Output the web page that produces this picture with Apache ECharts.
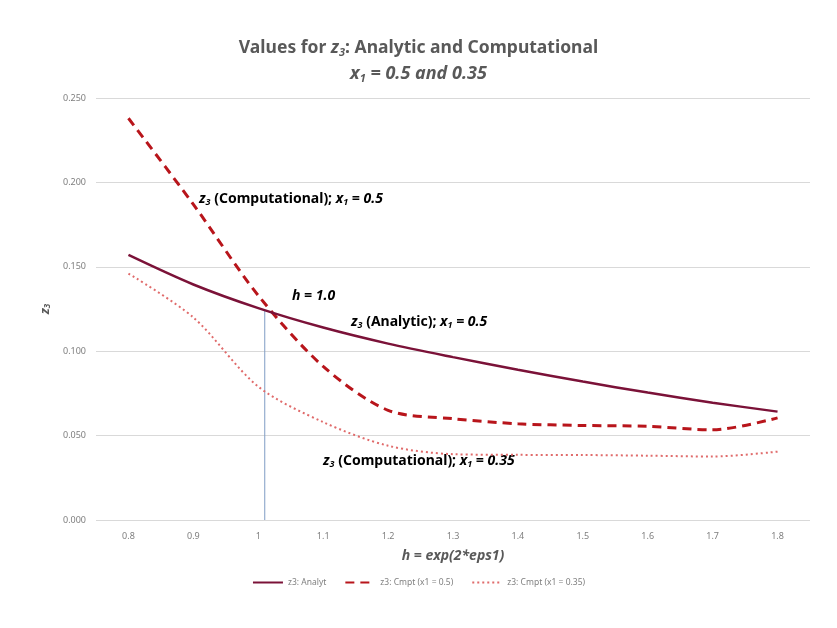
<!DOCTYPE html>
<html lang="en">
<head>
  <meta charset="UTF-8">
  <title>Values for z3</title>
  <style>
    html, body { margin: 0; padding: 0; background: #fff; }
  </style>
</head>
<body>
  <div id="main" style="width: 837px;height:628px;"></div>

  <script src="https://cdn.jsdelivr.net/npm/echarts@6/dist/echarts.min.js"></script>
  <script>
    // h = exp(2*eps1)
    let hValues = [0.8, 0.9, 1.0, 1.1, 1.2, 1.3, 1.4, 1.5, 1.6, 1.7, 1.8];
    let analytic = [0.157, 0.1395, 0.1255, 0.114, 0.1045, 0.0965, 0.089, 0.082, 0.0755, 0.0695, 0.0642];
    let cmpt05 = [0.238, 0.187, 0.133, 0.091, 0.065, 0.060, 0.057, 0.056, 0.0555, 0.0534, 0.0605];
    let cmpt035 = [0.146, 0.120, 0.079, 0.058, 0.044, 0.039, 0.0386, 0.0385, 0.0381, 0.0376, 0.0405];
    // marker line at h = 1.0
    let hMarkerX = 1.01;
    let hMarkerTop = 0.124;

    let font = '"Noto Sans", sans-serif';
    let pairs = (ys) => hValues.map((h, i) => [h, ys[i]]);

    let chart = echarts.init(document.getElementById('main'));
    let option = {
      animation: false,
      title: [{
        left: 'center',
        top: 34,
        text: 'Values for {z|z}{sub|3}: Analytic and Computational',
        textStyle: {
          fontFamily: font,
          fontSize: 17.5,
          fontWeight: 'bold',
          color: '#595959',
          rich: {
            z: { fontFamily: font, fontSize: 17.5, fontWeight: 'bold', fontStyle: 'italic', color: '#595959' },
            sub: { fontFamily: font, fontSize: 11, fontWeight: 'bold', fontStyle: 'italic', color: '#595959', padding: [8, 0, 0, 0] }
          }
        }
      }, {
        left: 'center',
        top: 59,
        text: '{t|x}{sub|1}{t| = 0.5 and 0.35}',
        textStyle: {
          rich: {
            t: { fontFamily: font, fontSize: 18, fontWeight: 'bold', fontStyle: 'italic', color: '#595959' },
            sub: { fontFamily: font, fontSize: 11, fontWeight: 'bold', fontStyle: 'italic', color: '#595959', padding: [9, 0, 0, 0] }
          }
        }
      }],
      grid: { left: 96, right: 27, top: 98, bottom: 108, containLabel: false },
      legend: {
        bottom: 36,
        left: 'center',
        itemWidth: 30,
        itemHeight: 10,
        itemGap: 18,
        itemStyle: { opacity: 0 },
        data: ['z3: Analyt', 'z3: Cmpt (x1 = 0.5)', 'z3: Cmpt (x1 = 0.35)'],
        textStyle: { fontFamily: font, fontSize: 8.5, color: '#7f7f7f' }
      },
      xAxis: {
        type: 'value',
        min: 0.75,
        max: 1.85,
        name: 'h = exp(2*eps1)',
        nameLocation: 'middle',
        nameGap: 29,
        nameTextStyle: { fontFamily: font, fontSize: 14, fontWeight: 'bold', fontStyle: 'italic', color: '#595959' },
        axisLine: { show: false },
        axisTick: { show: false },
        splitLine: { show: false },
        axisLabel: {
          customValues: hValues,
          fontFamily: font,
          fontSize: 9,
          color: '#7f7f7f',
          margin: 12
        }
      },
      yAxis: {
        type: 'value',
        min: 0,
        max: 0.25,
        interval: 0.05,
        name: '{z|z}{sub|3}',
        nameLocation: 'middle',
        nameGap: 36,
        nameRotate: 90,
        nameTextStyle: {
          rich: {
            z: { fontFamily: font, fontSize: 13, fontWeight: 'bold', fontStyle: 'italic', color: '#595959' },
            sub: { fontFamily: font, fontSize: 8, fontWeight: 'bold', fontStyle: 'italic', color: '#595959', padding: [6, 0, 0, 0] }
          }
        },
        axisLine: { show: false },
        axisTick: { show: false },
        splitLine: { lineStyle: { color: '#d9d9d9', width: 1 } },
        axisLabel: {
          fontFamily: font,
          fontSize: 9,
          color: '#7f7f7f',
          margin: 10,
          formatter: (v) => v.toFixed(3)
        }
      },
      series: [{
        name: 'hMarker',
        type: 'line',
        data: [[hMarkerX, 0], [hMarkerX, hMarkerTop]],
        symbol: 'none',
        lineStyle: { color: '#7f9cc4', width: 1 },
        z: 1
      }, {
        name: 'z3: Analyt',
        type: 'line',
        data: pairs(analytic),
        smooth: 0.3,
        symbol: 'none',
        color: '#7b1238',
        lineStyle: { color: '#7b1238', width: 2.5 },
        z: 3
      }, {
        name: 'z3: Cmpt (x1 = 0.5)',
        type: 'line',
        data: pairs(cmpt05),
        smooth: 0.3,
        symbol: 'none',
        color: '#b8151b',
        lineStyle: { color: '#b8151b', width: 3, type: [9, 6] },
        z: 2
      }, {
        name: 'z3: Cmpt (x1 = 0.35)',
        type: 'line',
        data: pairs(cmpt035),
        smooth: 0.3,
        symbol: 'none',
        color: '#e06b6b',
        lineStyle: { color: '#e06b6b', width: 2, type: [2, 3] },
        z: 2
      }],
      graphic: [{
        type: 'text',
        left: 199,
        top: 192,
        style: {
          text: '{z|z}{sub|3}{b| (Computational); }{z|x}{sub|1}{z| = 0.5}',
          rich: annotRich()
        }
      }, {
        type: 'text',
        left: 292,
        top: 289,
        style: {
          text: '{z|h = 1.0}',
          rich: annotRich()
        }
      }, {
        type: 'text',
        left: 351,
        top: 315,
        style: {
          text: '{z|z}{sub|3}{b| (Analytic); }{z|x}{sub|1}{z| = 0.5}',
          rich: annotRich()
        }
      }, {
        type: 'text',
        left: 323,
        top: 454,
        style: {
          text: '{z|z}{sub|3}{b| (Computational); }{z|x}{sub|1}{z| = 0.35}',
          rich: annotRich()
        }
      }]
    };
    chart.setOption(option);

    function annotRich() {
      return {
        b: { fontFamily: font, fontSize: 14, fontWeight: 'bold', color: '#000' },
        z: { fontFamily: font, fontSize: 14, fontWeight: 'bold', fontStyle: 'italic', color: '#000' },
        sub: { fontFamily: font, fontSize: 9, fontWeight: 'bold', fontStyle: 'italic', color: '#000', padding: [7, 0, 0, 0] }
      };
    }
  </script>
</body>
</html>
